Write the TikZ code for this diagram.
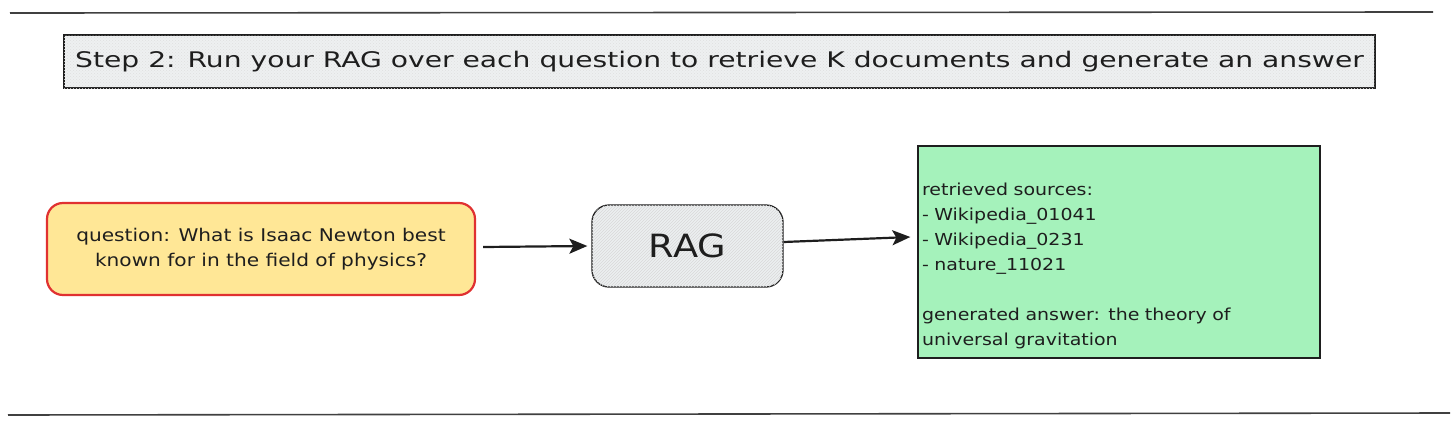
\documentclass[tikz,border=0pt]{standalone}
\usepackage{fontspec}
\usetikzlibrary{arrows.meta,patterns}
\newfontfamily\hand[FakeStretch=1.15]{DejaVu Sans}
\newfontfamily\handwide[FakeStretch=1.31]{DejaVu Sans}
\definecolor{ink}{HTML}{1E1E1E}
\definecolor{qfill}{HTML}{FFE796}
\definecolor{qline}{HTML}{E03131}
\definecolor{gfill}{HTML}{A5F2BB}
\definecolor{boxgray}{HTML}{EEF0F1}
\definecolor{raggray}{HTML}{ECEFF0}
\tikzset{
  rule/.style={draw=ink!85, line width=1.6pt},
  titlebox/.style={draw=ink, line width=1.3pt, fill=boxgray,
    postaction={pattern=crosshatch dots, pattern color=gray!25},
    minimum width=1311pt, minimum height=53pt, inner sep=0pt,
    font=\handwide\fontsize{21.5}{26}\selectfont, text=ink},
  qbox/.style={draw=qline, line width=2.2pt, fill=qfill, rounded corners=16pt,
    minimum width=428pt, minimum height=92pt, inner sep=0pt, align=center,
    font=\hand\fontsize{17.5}{25}\selectfont, text=ink},
  ragbox/.style={draw=ink, line width=1.3pt, fill=raggray, rounded corners=17pt,
    postaction={pattern=north east lines, pattern color=gray!30},
    minimum width=191pt, minimum height=82pt, inner sep=0pt,
    font=\hand\fontsize{32}{36}\selectfont, text=ink},
  outbox/.style={draw=ink, line width=1.3pt, fill=gfill,
    minimum height=212pt, text width=394pt, inner xsep=4pt, inner ysep=0pt,
    align=left, font=\hand\fontsize{16.5}{25}\selectfont, text=ink},
  flow/.style={draw=ink, line width=2.2pt,
    -{Stealth[length=18pt,width=15pt,inset=4pt]}},
}
\begin{document}
\begin{tikzpicture}[x=1pt,y=-1pt]
\useasboundingbox (0,0) rectangle (1456,426);
\coordinate (t1) at (10,13);
\coordinate (t2) at (1433,12);
\coordinate (b1) at (8,415);
\coordinate (b2) at (1450,413);
\draw[rule] (t1) -- (t2);
\draw[rule] (b1) -- (b2);
\node[titlebox] (title) at (719.5,61.5) {Step 2: Run your RAG over each question to retrieve K documents and generate an answer};
\node[qbox] (q) at (261,249) {question: What is Isaac Newton best\\known for in the field of physics?};
\node[ragbox] (rag) at (687.5,246) {RAG};
\node[outbox] (out) at (1119,252) {\mbox{}\\[16pt]retrieved sources:\\- Wikipedia\_01041\\- Wikipedia\_0231\\- nature\_11021\\\mbox{}\\generated answer: the theory of\\universal gravitation};
\draw[flow] ([xshift=7pt,yshift=2pt]q.east) -- ([xshift=-4pt]rag.west);
\draw[flow] ([yshift=4pt]rag.east) -- ([xshift=-7pt,yshift=15pt]out.west);
\end{tikzpicture}
\end{document}
